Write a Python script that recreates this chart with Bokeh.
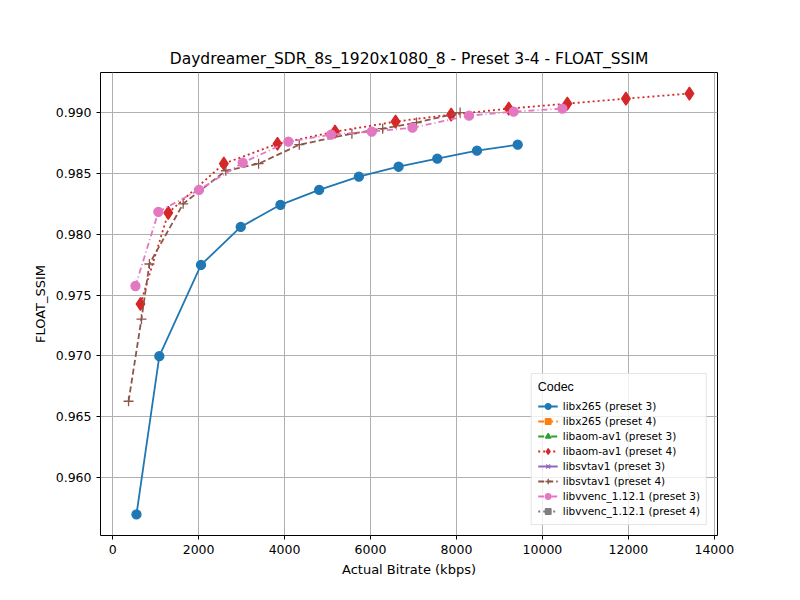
from bokeh.plotting import figure
from bokeh.models import (ColumnDataSource, Range1d, Legend, LegendItem,
                          FixedTicker, NumeralTickFormatter, BasicTickFormatter)
from bokeh.embed import file_html
from bokeh.resources import INLINE

nan = float("nan")

x265_p3_x = [554, 1086, 2056, 2980, 3904, 4805, 5729, 6653, 7554, 8478, 9425]
x265_p3_y = [0.95695, 0.96997, 0.97747, 0.98060, 0.98242, 0.98365, 0.98473,
             0.98555, 0.98621, 0.98687, 0.98736]
aom_p4_x = [647, 1294, 2587, 3835, 5174, 6583, 7877, 9217, 10580, 11943, 13421]
aom_p4_y = [0.97426, 0.98176, 0.98580, 0.98744, 0.98843, 0.98926, 0.98984,
            0.99033, 0.99074, 0.99115, 0.99157]
svt_p4_x = [370, 670, 855, 1640, 2633, 3396, 4343, 5567, 6283, 7069, 8085]
svt_p4_y = [0.96626, 0.97302, 0.97755, 0.98250, 0.98522, 0.98580, 0.98736,
            0.98827, 0.98868, 0.98918, 0.99000]
vvenc_p3_x = [531, 1063, 2010, 3026, 4089, 5082, 6029, 6976, 8293, 9332, 10464]
vvenc_p3_y = [0.97574, 0.98184, 0.98365, 0.98588, 0.98761, 0.98819, 0.98843,
              0.98876, 0.98975, 0.99008, 0.99033]
no_data = [nan]

series = [
    ("libx265 (preset 3)", x265_p3_x, x265_p3_y, "#1f77b4", "circle", "solid"),
    ("libx265 (preset 4)", no_data, no_data, "#ff7f0e", "square", "6 3"),
    ("libaom-av1 (preset 3)", no_data, no_data, "#2ca02c", "triangle", "6 3 1 3"),
    ("libaom-av1 (preset 4)", aom_p4_x, aom_p4_y, "#d62728", "diamond", "2 3"),
    ("libsvtav1 (preset 3)", no_data, no_data, "#9467bd", "x", "solid"),
    ("libsvtav1 (preset 4)", svt_p4_x, svt_p4_y, "#8c564b", "cross", "6 3"),
    ("libvvenc_1.12.1 (preset 3)", vvenc_p3_x, vvenc_p3_y, "#e377c2", "circle", "6 3 1 3"),
    ("libvvenc_1.12.1 (preset 4)", no_data, no_data, "#7f7f7f", "square", "2 3"),
]

p = figure(width=784, height=584, output_backend="svg", toolbar_location=None,
           title="Daydreamer_SDR_8s_1920x1080_8 - Preset 3-4 - FLOAT_SSIM",
           x_range=Range1d(-283, 14074), y_range=Range1d(0.95522, 0.99330),
           min_border_left=100, min_border_right=67, min_border_top=72,
           min_border_bottom=49)
p.title.align = "center"
p.title.text_font = "DejaVu Sans"
p.title.text_font_size = "15.5px"
p.title.text_font_style = "normal"
p.title.text_color = "black"
p.outline_line_color = "black"
p.xaxis.axis_label = "Actual Bitrate (kbps)"
p.yaxis.axis_label = "FLOAT_SSIM"
for ax in (p.xaxis, p.yaxis):
    ax.axis_label_text_font = "DejaVu Sans"
    ax.axis_label_text_font_style = "normal"
    ax.axis_label_text_font_size = "13px"
    ax.axis_label_text_color = "black"
    ax.major_label_text_font = "DejaVu Sans"
    ax.major_label_text_font_size = "12.5px"
    ax.major_label_text_color = "black"
    ax.axis_line_color = None
    ax.minor_tick_line_color = None
    ax.major_tick_line_color = "black"
    ax.major_tick_out = 4
    ax.major_tick_in = 0
p.xaxis.ticker = FixedTicker(ticks=list(range(0, 14001, 2000)))
p.xaxis.formatter = BasicTickFormatter(use_scientific=False)
p.yaxis.ticker = FixedTicker(ticks=[0.960, 0.965, 0.970, 0.975, 0.980, 0.985, 0.990])
p.yaxis.formatter = NumeralTickFormatter(format="0.000")
p.grid.grid_line_color = "#b0b0b0"
p.grid.grid_line_width = 1

items = []
for name, xs, ys, col, mk, dash in series:
    src = ColumnDataSource(dict(x=xs, y=ys))
    ln = p.line("x", "y", source=src, line_color=col, line_width=1.8, line_dash=dash)
    sz = {"circle": 9, "square": 9, "diamond": 13}.get(mk, 10)
    sc = p.scatter("x", "y", source=src, marker=mk, size=sz, fill_color=col,
                   line_color=col, line_width=1.3)
    items.append(LegendItem(label=name, renderers=[ln, sc]))

legend = Legend(items=items, location="bottom_right", title="Codec",
                label_text_font_size="10.5px", label_text_font="DejaVu Sans",
                label_text_color="black",
                title_text_font_size="12.5px", title_text_font_style="normal",
                title_text_color="black",
                label_height=14, glyph_height=14, spacing=1, padding=6,
                border_line_color="#cccccc", background_fill_alpha=0.8)
p.add_layout(legend)

open("out.html", "w").write(file_html(p, INLINE))
